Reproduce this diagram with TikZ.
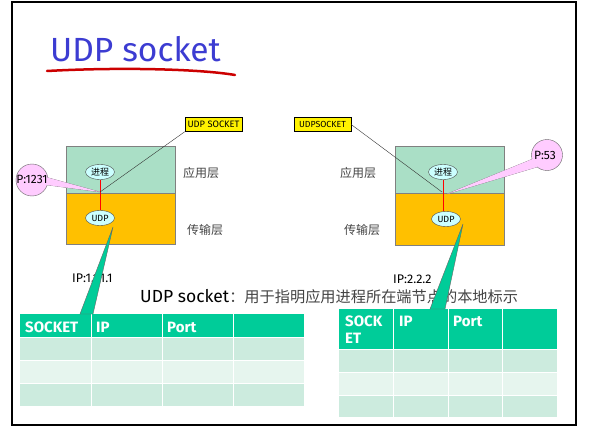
\documentclass[tikz,border=0pt]{standalone}
\usepackage{fontspec}
\setmainfont{Fira Sans}
\newfontfamily\cjk{Noto Sans CJK SC}
\usetikzlibrary{shapes.geometric}
\definecolor{titleblue}{HTML}{3C3CD2}
\definecolor{appgreen}{HTML}{AADFC6}
\definecolor{transorange}{HTML}{FFC000}
\definecolor{ellfill}{HTML}{CCFFFF}
\definecolor{pinkc}{HTML}{FFCCFF}
\definecolor{tealc}{HTML}{00CC99}
\definecolor{rowA}{HTML}{CCEBDE}
\definecolor{rowB}{HTML}{E6F5EE}
\definecolor{cjkgray}{HTML}{444444}
\tikzset{
  proc/.style={ellipse, draw=black!70, fill=ellfill, inner sep=0pt, minimum width=29pt, minimum height=15pt, font=\fontsize{9}{9}\selectfont},
  sockbox/.style={draw=black, fill=yellow, inner sep=0pt, minimum height=14pt, font=\fontsize{9.3}{10}\selectfont},
  layerlbl/.style={font=\cjk\fontsize{12}{12}\selectfont, text=cjkgray},
  pinkball/.style={circle, draw=black!60, fill=pinkc, inner sep=0pt},
  hdr/.style={text=white, font=\bfseries\fontsize{15}{16}\selectfont, anchor=base west, align=left},
  iplbl/.style={font=\fontsize{12.5}{13}\selectfont, anchor=base west},
  lyrbox/.style={draw=gray},
  cellline/.style={draw=white, line width=1pt}
}
\begin{document}
\begin{tikzpicture}[x=1pt,y=-1pt]
\useasboundingbox (0,0) rectangle (592,428);
\fill[white] (0,0) rectangle (592,428);
% frame
\draw[line width=2pt] (12,2) rectangle (576,425);
% title
\node[anchor=base west, text=titleblue, inner sep=0pt, font=\fontsize{33.5}{34}\selectfont] (title) at (50,62) {UDP socket};
\draw[red!80!black, line width=2.5pt, line cap=round] (47,71) .. controls (120,67) and (200,69) .. (235,75);

% ---------- left host ----------
\draw[lyrbox, fill=appgreen] (66,146) rectangle (175,193);
\draw[lyrbox, fill=transorange] (66,193) rectangle (175,244);
\node[proc] (procL) at (100,172) {\cjk 进程};
\node[proc] (udpL) at (100,218) {UDP};
\draw[red, line width=1pt] (procL) -- (udpL);
\coordinate (sockL) at (100,192);
\node[sockbox, minimum width=57pt] (lblL) at (213.5,124.5) {UDP SOCKET};
\draw[black!80] (sockL) -- (lblL.south west);
\node[layerlbl] (appL) at (201,173) {应用层};
\node[layerlbl] (traL) at (205,230) {传输层};
% pink callout left
\node[pinkball, minimum size=32pt] (pL) at (32,180) {};
\draw[black!60, fill=pinkc] (pL.8) -- (sockL) -- (pL.-18);
\fill[pinkc] (pL.8) -- (sockL) -- (pL.-18) -- (pL.center) -- cycle;
\node[anchor=base, inner sep=0pt, font=\fontsize{12}{12}\selectfont] (pLt) at (32,183) {P:1231};
\node[iplbl, inner sep=0pt] (ipL) at (72,282) {IP:1.1.1.1};

% ---------- right host ----------
\draw[lyrbox, fill=appgreen] (395,146) rectangle (504,193);
\draw[lyrbox, fill=transorange] (395,193) rectangle (504,245);
\node[proc] (procR) at (443,172) {\cjk 进程};
\node[proc] (udpR) at (446,219) {UDP};
\draw[red, line width=1pt] (procR) -- (procR |- udpR.north);
\coordinate (sockR) at (442,192);
\coordinate (sockRb) at (447,194);
\node[sockbox, minimum width=57pt, font=\fontsize{8.8}{9}\selectfont] (lblR) at (322.5,124.5) {UDPSOCKET};
\draw[black!80] (lblR.east) -- (sockR);
\node[layerlbl] (appR) at (358,173) {应用层};
\node[layerlbl] (traR) at (362,230) {传输层};
\node[pinkball, minimum size=31pt] (pR) at (547,155) {};
\draw[black!60, fill=pinkc] (pR.196) -- (sockRb) -- (pR.230);
\fill[pinkc] (pR.196) -- (sockRb) -- (pR.230) -- (pR.center) -- cycle;
\node[anchor=base, inner sep=0pt, font=\fontsize{12}{12}\selectfont] (pRt) at (545,159) {P:53};
\node[iplbl, inner sep=0pt] (ipR) at (393,283) {IP:2.2.2};

% caption
\node[anchor=base west, inner sep=0pt, font=\fontsize{17.5}{18}\selectfont] (cap) at (140,302) {UDP socket\textcolor{cjkgray}{\cjk\fontsize{15.2}{16}\selectfont ：用于指明应用进程所在端节点的本地标示}};

% ---------- left table ----------
\fill[tealc] (20,314) rectangle (304,337);
\fill[rowA] (20,337) rectangle (304,360);
\fill[rowB] (20,360) rectangle (304,383);
\fill[rowA] (20,383) rectangle (304,406);
\foreach \x in {91,162,233} \draw[cellline] (\x,314) -- (\x,406);
\foreach \y in {337,360,383} \draw[cellline] (20,\y) -- (304,\y);
\node[hdr, inner sep=0pt] (hL1) at (25,332) {SOCKET};
\node[hdr, inner sep=0pt] (hL2) at (96,332) {IP};
\node[hdr, inner sep=0pt] (hL3) at (167,332) {Port};

% ---------- right table ----------
\fill[tealc] (339,309) rectangle (557,349);
\fill[rowA] (339,349) rectangle (557,372);
\fill[rowB] (339,372) rectangle (557,395);
\fill[rowA] (339,395) rectangle (557,417);
\foreach \x in {393,448,502} \draw[cellline] (\x,309) -- (\x,417);
\foreach \y in {349,372,395} \draw[cellline] (339,\y) -- (557,\y);
\node[hdr, inner sep=0pt] (hR1a) at (345,326) {SOCK};
\node[hdr, inner sep=0pt] (hR1b) at (345,343) {ET};
\node[hdr, inner sep=0pt] (hR2) at (399,326) {IP};
\node[hdr, inner sep=0pt] (hR3) at (453,326) {Port};

% ---------- teal callouts ----------
\coordinate (tipL) at (113,227);
\coordinate (tipR) at (463,224);
\draw[black!60, fill=tealc] (tipL) -- (80,314) -- (93,314) -- cycle;
\draw[black!60, fill=tealc] (tipR) -- (430,309) -- (445,309) -- cycle;
\end{tikzpicture}
\end{document}
